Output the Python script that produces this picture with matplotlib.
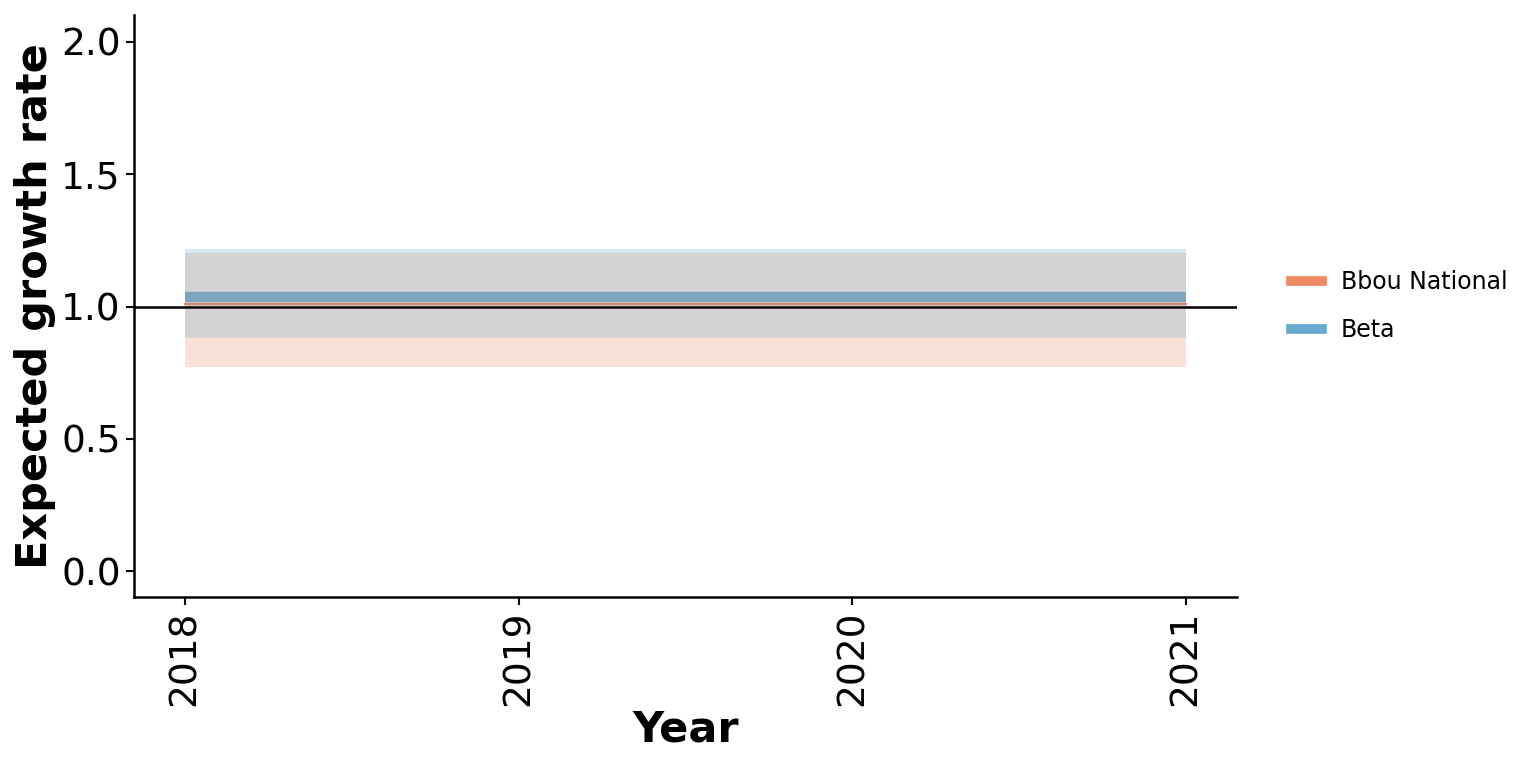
import matplotlib
matplotlib.use("Agg")
from matplotlib import pyplot as plt
from matplotlib.lines import Line2D

years = [2018, 2019, 2020, 2021]

bbou_mean = [1.008, 1.008, 1.008, 1.008]
bbou_lower = [0.772, 0.772, 0.772, 0.772]
bbou_upper = [1.202, 1.202, 1.202, 1.202]

beta_mean = [1.035, 1.035, 1.035, 1.035]
beta_lower = [0.882, 0.882, 0.882, 0.882]
beta_upper = [1.217, 1.217, 1.217, 1.217]

series_names = ["Bbou National", "Beta"]
orange = "#ef8a62"
blue = "#67a9cf"

fig = plt.figure(figsize=(15.36, 7.68), dpi=100)
ax = fig.add_axes([134 / 1536, 1 - 597 / 768, (1237 - 134) / 1536, (597 - 15) / 768])

ax.fill_between(years, bbou_lower, bbou_upper, color=orange, alpha=0.25, linewidth=0)
ax.fill_between(years, beta_lower, beta_upper, color=blue, alpha=0.25, linewidth=0)
ax.plot(years, bbou_mean, color="#d08a74", linewidth=1.6)
ax.plot(years, beta_mean, color="#7ea3bd", linewidth=7.5, solid_capstyle="butt")
ax.axhline(1.0, color="black", linewidth=1.8)

ax.set_xlim(2017.847, 2021.153)
ax.set_ylim(-0.098, 2.102)
ax.set_xticks(years)
ax.set_xticklabels([str(y) for y in years], rotation=90)
ax.set_yticks([0.0, 0.5, 1.0, 1.5, 2.0])
ax.set_yticklabels(["0.0", "0.5", "1.0", "1.5", "2.0"])
ax.tick_params(labelsize=27, width=1.5, length=6, direction="out")

for side in ["top", "right"]:
    ax.spines[side].set_visible(False)
for side in ["left", "bottom"]:
    ax.spines[side].set_linewidth(1.8)

ax.set_xlabel("Year", fontsize=31, fontweight="bold", labelpad=2)
ax.set_ylabel("Expected growth rate", fontsize=31, fontweight="bold", labelpad=4)

handles = [Line2D([0], [0], color=orange, linewidth=7),
           Line2D([0], [0], color=blue, linewidth=7)]
ax.legend(handles, series_names, loc="center left", bbox_to_anchor=(1.03, 0.5),
          frameon=False, fontsize=17, handlelength=1.3, labelspacing=1.0)

fig.savefig("out.png", dpi=100)
